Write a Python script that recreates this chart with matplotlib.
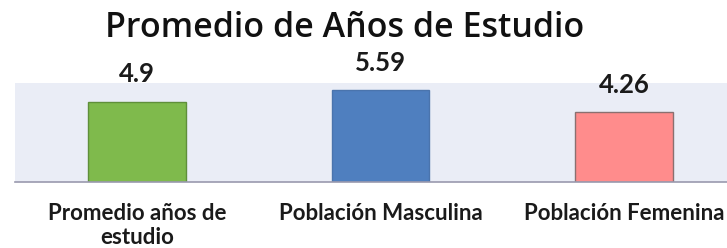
import matplotlib
matplotlib.use("Agg")
import matplotlib.pyplot as plt

categories = ["Promedio años de\nestudio", "Población Masculina", "Población Femenina"]
values = [4.9, 5.59, 4.26]
value_labels = ["4.9", "5.59", "4.26"]
title = "Promedio de Años de Estudio"

colors = ["#7fba4c", "#4f7fbf", "#ff8c8c"]
edges = ["#5f8f3a", "#4a74ad", "#8a7070"]

W, H = 727, 248
fig = plt.figure(figsize=(W / 100, H / 100), dpi=100)
fig.patch.set_facecolor("white")

# axes in pixel coords: left 15, right 746, top 83, bottom 182
l, r, t, b = 15, 746, 83, 182
ax = fig.add_axes([l / W, 1 - b / H, (r - l) / W, (b - t) / H])
ax.set_facecolor("#eaedf6")

x = list(range(len(categories)))
ax.bar(x, values, width=0.4, color=colors, edgecolor=edges, linewidth=1.0, zorder=2)
ax.set_xlim(-0.5, 2.5)
ax.set_ylim(0, 6.04)

for xi, v, lab in zip(x, values, value_labels):
    ax.annotate(lab, (xi, v), xytext=(0, 11), textcoords="offset points",
                ha="center", va="bottom", fontsize=18.5, fontweight="bold",
                family=["Lato", "DejaVu Sans"], color="#1a1a1a", annotation_clip=False)

for s in ["top", "right", "left"]:
    ax.spines[s].set_visible(False)
ax.spines["bottom"].set_color("#9a9aae")
ax.spines["bottom"].set_linewidth(1.2)
ax.set_yticks([])
ax.set_xticks(x)
ax.set_xticklabels(categories, fontsize=16, fontweight="bold",
                   family=["Lato", "DejaVu Sans"], color="#1a1a1a", linespacing=1.2)
ax.tick_params(axis="x", length=0, pad=15)

fig.text(0.5 * (110 + 580) / W, 1 - 37 / H, title, ha="center", va="baseline",
         fontsize=24.5, family=["Open Sans", "DejaVu Sans"], fontweight="semibold", color="#111111")

fig.savefig("out.png", dpi=100, facecolor="white")
